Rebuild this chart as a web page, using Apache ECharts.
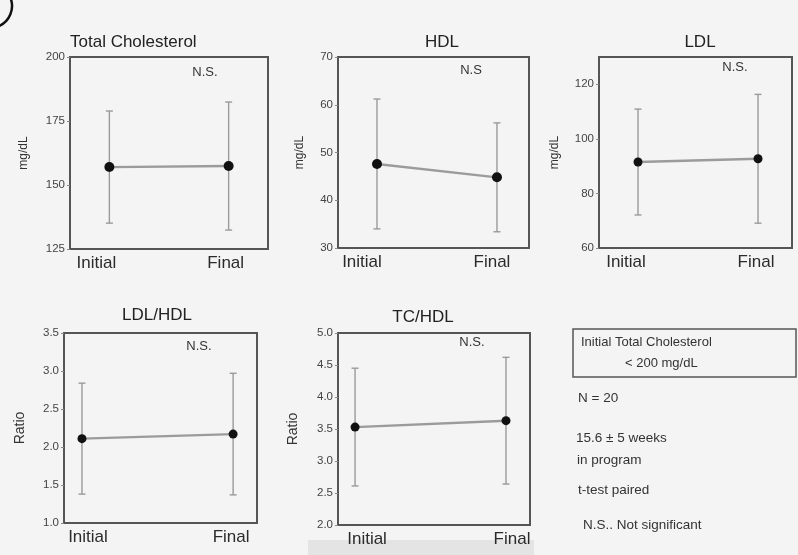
<!DOCTYPE html>
<html>
<head>
<meta charset="utf-8">
<script src="https://cdn.jsdelivr.net/npm/echarts@6/dist/echarts.min.js"></script>
<style>
  html, body { margin: 0; padding: 0; background: #f4f4f4; }
  #chart { width: 798px; height: 555px; }
</style>
</head>
<body>
<div id="chart"></div>
<script>
// Lipid measures at program start and end (mean ± SD), N = 20
const stages = ['Initial', 'Final'];

const tcMean = [157.0, 157.4];
const tcSD = [21.9, 25.0];

const hdlMean = [47.6, 44.8];
const hdlSD = [13.6, 11.4];

const ldlMean = [91.5, 92.7];
const ldlSD = [19.4, 23.6];

const ldlHdlMean = [2.11, 2.17];
const ldlHdlSD = [0.73, 0.80];

const tcHdlMean = [3.53, 3.63];
const tcHdlSD = [0.92, 0.99];

const panelTitles = ['Total Cholesterol', 'HDL', 'LDL', 'LDL/HDL', 'TC/HDL'];
const significance = ['N.S.', 'N.S', 'N.S.', 'N.S.', 'N.S.'];
const yNames = ['mg/dL', 'mg/dL', 'mg/dL', 'Ratio', 'Ratio'];

const noteLines = [
  'N = 20',
  '15.6 \u00b1 5 weeks',
  'in program',
  't-test paired',
  'N.S.. Not significant'
];
const boxLines = ['Initial Total Cholesterol', '< 200 mg/dL'];

const FONT = '"Liberation Sans", Arial, Helvetica, sans-serif';

// per-panel layout
const panels = [
  { mean: tcMean, sd: tcSD, grid: [70, 57, 198, 192], y: [125, 200, 25], dec: 0,
    x: [-0.33, 1.33], gap: 40, nameSize: 12, dot: 10, lab: [-13, -3], showMax: true },
  { mean: hdlMean, sd: hdlSD, grid: [338, 57, 191, 191], y: [30, 70, 10], dec: 0,
    x: [-0.325, 1.267], gap: 32, nameSize: 12, dot: 10, lab: [-15, -5], showMax: true },
  { mean: ldlMean, sd: ldlSD, grid: [599, 57, 193, 191], y: [60, 130, 20], dec: 0,
    x: [-0.325, 1.283], gap: 38, nameSize: 12, dot: 9, lab: [-12, -2], showMax: false },
  { mean: ldlHdlMean, sd: ldlHdlSD, grid: [64, 333, 193, 190], y: [1, 3.5, 0.5], dec: 1,
    x: [-0.119, 1.158], gap: 37, nameSize: 14, dot: 9, lab: [6, -2], showMax: true },
  { mean: tcHdlMean, sd: tcHdlSD, grid: [338, 333, 192, 192], y: [2, 5, 0.5], dec: 1,
    x: [-0.113, 1.159], gap: 38, nameSize: 14, dot: 9, lab: [12, 6], showMax: true }
];

function shiftPad(s) {
  // positive shift moves the label right, negative moves it left
  return s >= 0 ? [0, 0, 0, 2 * s] : [0, -2 * s, 0, 0];
}

function renderErrorBar(params, api) {
  const x = api.value(0);
  const top = api.coord([x, api.value(2)]);
  const bot = api.coord([x, api.value(1)]);
  const cap = 3.5;
  const style = { stroke: '#9a9a9a', lineWidth: 1.4 };
  return {
    type: 'group',
    children: [
      { type: 'line', shape: { x1: top[0], y1: top[1], x2: bot[0], y2: bot[1] }, style },
      { type: 'line', shape: { x1: top[0] - cap, y1: top[1], x2: top[0] + cap, y2: top[1] }, style },
      { type: 'line', shape: { x1: bot[0] - cap, y1: bot[1], x2: bot[0] + cap, y2: bot[1] }, style }
    ]
  };
}

const grid = [], xAxis = [], yAxis = [], series = [];

panels.forEach((p, k) => {
  grid.push({
    left: p.grid[0], top: p.grid[1], width: p.grid[2], height: p.grid[3],
    show: true, borderColor: '#555', borderWidth: 2, backgroundColor: 'transparent'
  });
  xAxis.push({
    type: 'value', gridIndex: k, min: p.x[0], max: p.x[1],
    axisLine: { show: false, onZero: false }, axisTick: { show: false }, splitLine: { show: false },
    axisLabel: {
      customValues: [0, 1],
      margin: 6,
      formatter: v => (v < 0.5 ? '{a|' + stages[0] + '}' : '{b|' + stages[1] + '}'),
      rich: {
        a: { fontFamily: FONT, fontSize: 17, color: '#2b2b2b', padding: shiftPad(p.lab[0]) },
        b: { fontFamily: FONT, fontSize: 17, color: '#2b2b2b', padding: shiftPad(p.lab[1]) }
      }
    }
  });
  yAxis.push({
    type: 'value', gridIndex: k, min: p.y[0], max: p.y[1], interval: p.y[2],
    axisLine: { show: false, onZero: false }, splitLine: { show: false },
    axisTick: { show: true, inside: false, length: 3, lineStyle: { color: '#888', width: 1 } },
    axisLabel: {
      margin: 5, fontFamily: FONT, fontSize: 11.5, color: '#444',
      showMaxLabel: p.showMax,
      formatter: v => v.toFixed(p.dec)
    },
    name: yNames[k], nameLocation: 'middle', nameGap: p.gap, nameMoveOverlap: false,
    nameTextStyle: { fontFamily: FONT, fontSize: p.nameSize, color: '#333' }
  });
  series.push({
    type: 'custom', xAxisIndex: k, yAxisIndex: k, z: 2,
    renderItem: renderErrorBar,
    encode: { x: 0, y: [1, 2] },
    data: stages.map((s, i) => [i, p.mean[i] - p.sd[i], p.mean[i] + p.sd[i]]),
    silent: true
  });
  series.push({
    type: 'line', xAxisIndex: k, yAxisIndex: k, z: 3,
    data: stages.map((s, i) => [i, p.mean[i]]),
    symbol: 'circle', symbolSize: p.dot,
    itemStyle: { color: '#111' },
    lineStyle: { color: '#9b9b9b', width: 2.4 },
    silent: true, animation: false
  });
});

// panel titles, N.S. marks, side notes
const titlePos = [[70, 42, 'left'], [442, 42, 'center'], [700, 42, 'center'], [157, 315, 'center'], [423, 317, 'center']];
const sigPos = [[205, 72], [471, 70], [735, 67], [199, 346], [472, 342]];

const graphic = [];
panelTitles.forEach((t, k) => {
  graphic.push({
    type: 'text', x: titlePos[k][0], y: titlePos[k][1],
    style: { text: t, font: '17px ' + FONT, fill: '#222', align: titlePos[k][2], verticalAlign: 'middle' }
  });
  graphic.push({
    type: 'text', x: sigPos[k][0], y: sigPos[k][1],
    style: { text: significance[k], font: '13px ' + FONT, fill: '#333', align: 'center', verticalAlign: 'middle' }
  });
});

graphic.push({
  type: 'rect', shape: { x: 573, y: 329, width: 223, height: 48 },
  style: { fill: 'none', stroke: '#555', lineWidth: 1.5 }
});
graphic.push({
  type: 'text', x: 581, y: 342,
  style: { text: boxLines[0], font: '13px ' + FONT, fill: '#333', align: 'left', verticalAlign: 'middle' }
});
graphic.push({
  type: 'text', x: 625, y: 363,
  style: { text: boxLines[1], font: '13px ' + FONT, fill: '#333', align: 'left', verticalAlign: 'middle' }
});
const noteY = [398, 438, 460, 490, 525];
const noteX = [578, 576, 577, 578, 583];
noteLines.forEach((t, i) => {
  graphic.push({
    type: 'text', x: noteX[i], y: noteY[i],
    style: { text: t, font: '13.5px ' + FONT, fill: '#333', align: 'left', verticalAlign: 'middle' }
  });
});

// corner bracket and faint band along the bottom edge
graphic.push({
  type: 'arc', shape: { cx: -10, cy: 6, r: 22, startAngle: -0.4, endAngle: 1.45, clockwise: true },
  style: { stroke: '#111', lineWidth: 2.5, fill: null }
});
graphic.push({
  type: 'rect', z: -10, shape: { x: 308, y: 540, width: 226, height: 15 },
  style: { fill: '#e4e4e4' }
});

const chart = echarts.init(document.getElementById('chart'), null, { renderer: 'canvas' });
chart.setOption({
  backgroundColor: '#f4f4f4',
  animation: false,
  grid, xAxis, yAxis, series, graphic
});
</script>
</body>
</html>
